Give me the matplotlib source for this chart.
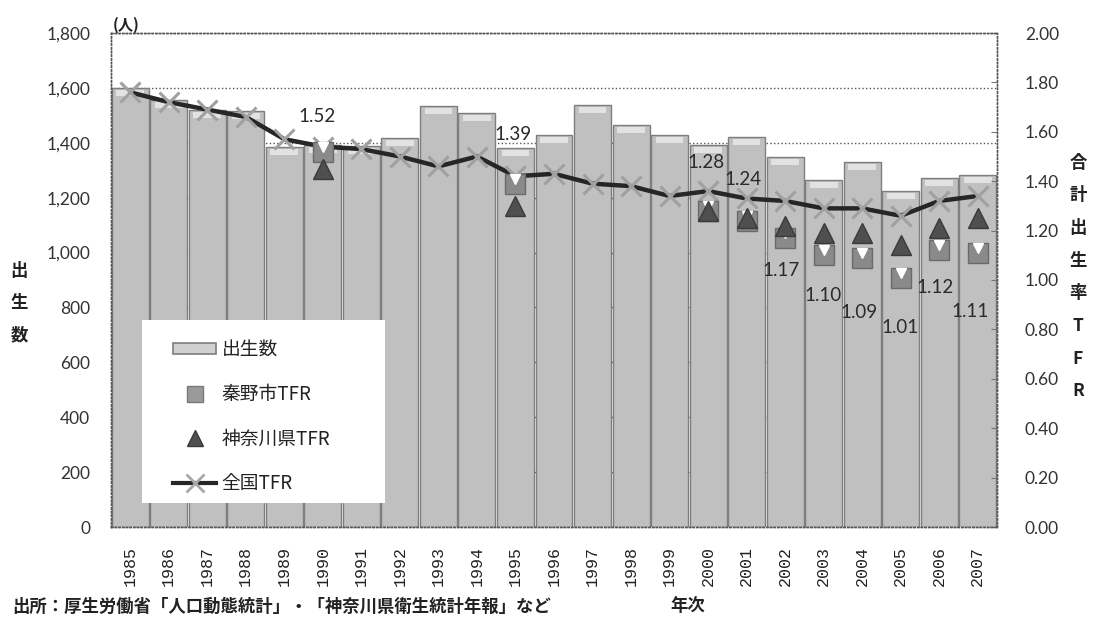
import matplotlib
matplotlib.use("Agg")
import matplotlib.pyplot as plt
import numpy as np
from matplotlib.patches import Rectangle, Patch
from matplotlib.lines import Line2D
from matplotlib.transforms import offset_copy
from matplotlib.ticker import FuncFormatter, MultipleLocator

# ---- data -------------------------------------------------------------
years = list(range(1985, 2008))
births = [1600, 1556, 1520, 1516, 1385, 1392, 1389, 1418, 1534, 1509, 1381, 1429,
          1537, 1465, 1429, 1392, 1421, 1348, 1265, 1330, 1225, 1272, 1283]
national_tfr = [1.76, 1.72, 1.69, 1.66, 1.57, 1.54, 1.53, 1.50, 1.46, 1.50, 1.42, 1.43,
                1.39, 1.38, 1.34, 1.36, 1.33, 1.32, 1.29, 1.29, 1.26, 1.32, 1.34]
hadano_years = [1990, 1995, 2000, 2001, 2002, 2003, 2004, 2005, 2006, 2007]
hadano_tfr = [1.52, 1.39, 1.28, 1.24, 1.17, 1.10, 1.09, 1.01, 1.12, 1.11]
kanagawa_years = [1990, 1995, 2000, 2001, 2002, 2003, 2004, 2005, 2006, 2007]
kanagawa_tfr = [1.45, 1.30, 1.28, 1.25, 1.22, 1.19, 1.19, 1.14, 1.21, 1.25]

series_names = ["出生数", "秦野市TFR", "神奈川県TFR", "全国TFR"]
left_label = "出生数"
right_label = "合計出生率TFR"
source_note = "出所：厚生労働省「人口動態統計」・「神奈川県衛生統計年報」など"
x_title = "年次"
unit_label = "(人)"

# label offsets (pixels) for the Hadano TFR values
label_offsets = [(-6, 35), (-2, 49), (-2, 48), (-4, 41), (-4, -32),
                 (-1, -40), (-3, -55), (-1, -50), (-4, -37), (-8, -59)]

# ---- style ------------------------------------------------------------
plt.rcParams["font.family"] = ["Lato", "Noto Sans CJK JP", "DejaVu Sans"]
CJK = ["Noto Sans CJK JP", "DejaVu Sans"]
W, H = 1094, 624
fig = plt.figure(figsize=(W / 100, H / 100), dpi=100)
fig.patch.set_facecolor("white")

L, R, T, B = 111, 997, 33, 527
ax = fig.add_axes([L / W, 1 - B / H, (R - L) / W, (B - T) / H])
ax2 = ax.twinx()


def fpos(x, y):
    return x / W, 1 - y / H


xpos = np.arange(len(years))
idx = {y: i for i, y in enumerate(years)}
hx = np.array([idx[y] for y in hadano_years])
kx = np.array([idx[y] for y in kanagawa_years])

# bars
bar_face = "#c0c0c0"
bar_edge = "#7e7e7e"
ax.bar(xpos, births, width=0.96, color=bar_face, edgecolor=bar_edge,
       linewidth=1.0, zorder=2)
ax.bar(xpos, [22] * len(births), bottom=np.array(births) - 30, width=0.72,
       color="white", alpha=0.55, linewidth=0, zorder=3)

ax.set_xlim(-0.5, len(years) - 0.5)
ax.set_ylim(0, 1800)
ax.yaxis.set_major_locator(MultipleLocator(200))
ax.yaxis.set_major_formatter(FuncFormatter(lambda v, p: f"{int(v):,}"))
ax.set_axisbelow(True)
ax.grid(axis="y", linestyle=":", color="#555555", linewidth=1.0, zorder=0)
ax.set_xticks(xpos)
ax.set_xticklabels([str(y) for y in years], rotation=90,
                   family="Liberation Mono", fontsize=12, color="#222222")
ax.tick_params(axis="x", length=0, pad=14)
ax.tick_params(axis="y", length=0, pad=15, labelsize=12.5, labelcolor="#333333")

ax2.set_ylim(0, 2.0)
ax2.yaxis.set_major_locator(MultipleLocator(0.2))
ax2.yaxis.set_major_formatter(FuncFormatter(lambda v, p: f"{v:.2f}"))
ax2.tick_params(axis="y", direction="in", length=4, color="#777777", pad=20,
                labelsize=12.5, labelcolor="#333333")

for a in (ax, ax2):
    for s in a.spines.values():
        s.set_linestyle(":")
        s.set_color("#555555")
        s.set_linewidth(1.0)

# national TFR line
ax2.plot(xpos, national_tfr, color="#262626", linewidth=3.2, zorder=3,
         marker="x", markersize=15, markeredgewidth=2.2,
         markeredgecolor="#a0a0a0", solid_capstyle="round")

# Hadano squares with light bevel
ax2.plot(hx, hadano_tfr, linestyle="none", marker="s", markersize=14,
         markerfacecolor="#8a8a8a", markeredgecolor="#6a6a6a",
         markeredgewidth=1, zorder=4)
ax2.plot(hx, hadano_tfr, linestyle="none", marker="v", markersize=7,
         color="white", zorder=4.1,
         transform=offset_copy(ax2.transData, fig=fig, y=5, units="dots"))

# Kanagawa triangles
ax2.plot(kx, kanagawa_tfr, linestyle="none", marker="^", markersize=14,
         markerfacecolor="#4f4f4f", markeredgecolor="#3a3a3a",
         markeredgewidth=1, zorder=4.5)

# value labels
for x, v, (dx, dy) in zip(hx, hadano_tfr, label_offsets):
    ax2.annotate(f"{v:.2f}", (x, v), xytext=(dx, dy), textcoords="offset pixels",
                 ha="center", va="center", fontsize=13.5, color="#2a2a2a",
                 zorder=6)

# legend with its white panel
px_ax = lambda x, y: ((x - L) / (R - L), (B - y) / (B - T))
x0, y0 = px_ax(142, 503)
x1, y1 = px_ax(385, 320)
ax2.add_patch(Rectangle((x0, y0), x1 - x0, y1 - y0, transform=ax2.transAxes,
                        facecolor="white", edgecolor="none", zorder=6))
handles = [
    Patch(facecolor="#d0d0d0", edgecolor="#7e7e7e", linewidth=1.2),
    Line2D([], [], linestyle="none", marker="s", markersize=11,
           markerfacecolor="#9a9a9a", markeredgecolor="#7a7a7a"),
    Line2D([], [], linestyle="none", marker="^", markersize=12,
           markerfacecolor="#4f4f4f", markeredgecolor="#3a3a3a"),
    Line2D([], [], color="#262626", linewidth=3, marker="x", markersize=13,
           markeredgewidth=2, markeredgecolor="#a8a8a8"),
]
lx, ly = px_ax(173, 339)
leg = ax2.legend(handles, series_names, loc="upper left", bbox_to_anchor=(lx, ly),
                 frameon=False, prop={"family": CJK, "size": 13.5},
                 labelspacing=1.27, handlelength=2.3, handleheight=0.55,
                 handletextpad=0.3, borderpad=0, borderaxespad=0)
leg.set_zorder(7)
for t in leg.get_texts():
    t.set_color("#222222")

# axis titles and notes
fig.text(*fpos(126, 25), unit_label, family=CJK, fontsize=11, fontweight="bold",
         ha="center", va="center", color="#222222")
fig.text(*fpos(19, 303), "\n".join(left_label), family=CJK, fontsize=12.5,
         fontweight="bold", ha="center", va="center", linespacing=2.0,
         color="#222222")
fig.text(*fpos(1078, 277), "\n".join(right_label), family=CJK, fontsize=12.5,
         fontweight="bold", ha="center", va="center", linespacing=2.05,
         color="#222222")
fig.text(*fpos(12, 607), source_note, family=CJK, fontsize=12.5,
         fontweight="bold", ha="left", va="center", color="#222222")
fig.text(*fpos(688, 606), x_title, family=CJK, fontsize=12.5,
         fontweight="bold", ha="center", va="center", color="#222222")

fig.savefig("out.png", dpi=100, facecolor="white")
